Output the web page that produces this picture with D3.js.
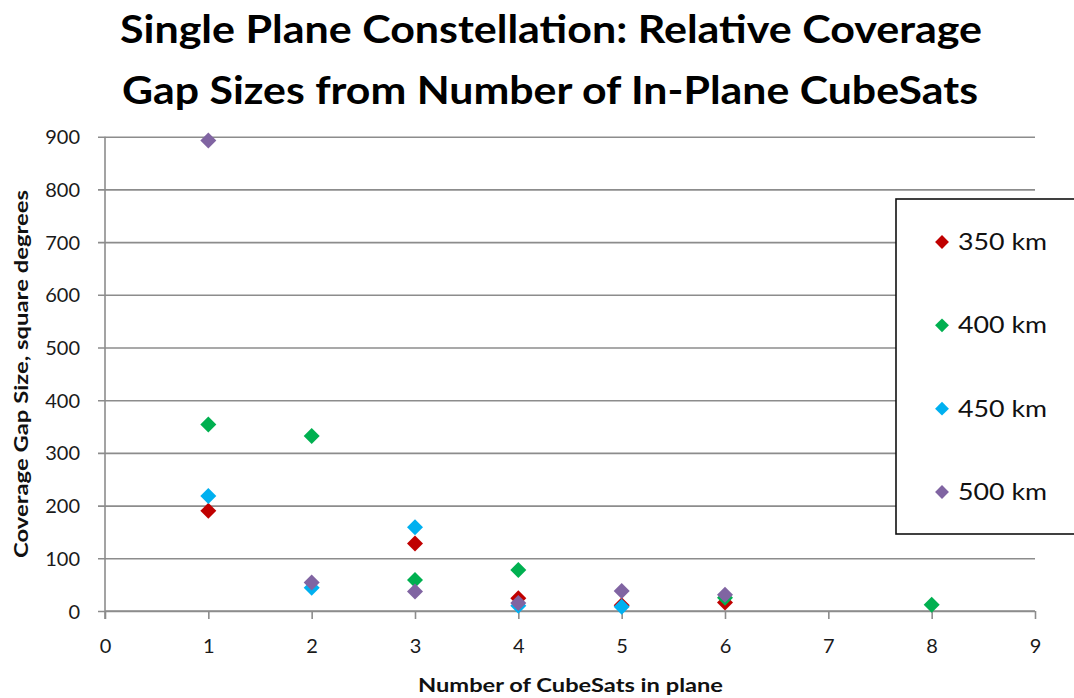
<!DOCTYPE html>
<html><head><meta charset="utf-8">
<script src="https://cdn.jsdelivr.net/npm/d3@7"></script>
<style>
html,body{margin:0;padding:0;background:#fff;}
svg{display:block;font-family:Lato,"Open Sans",sans-serif;}
</style></head>
<body><svg id="c" width="1074" height="698"></svg>
<script>
const counts = [1, 2, 3, 4, 5, 6, 7, 8];
const s350 = [190, null, 128, 24, 11, 16, null, null];
const s400 = [354, 332, 59, 78, null, 25, null, 12];
const s450 = [218, 44, 159, 10, 8, null, null, null];
const s500 = [893, 54, 37, 15, 38, 31, null, null];
const seriesNames = ["350 km", "400 km", "450 km", "500 km"];
const seriesColors = ["#c00000", "#00b050", "#00b0f0", "#8064a2"];
const xTicks = [0, 1, 2, 3, 4, 5, 6, 7, 8, 9];
const yTicks = [0, 100, 200, 300, 400, 500, 600, 700, 800, 900];
const titleLines = ["Single Plane Constellation: Relative Coverage", "Gap Sizes from Number of In-Plane CubeSats"];
const xLabel = "Number of CubeSats in plane";
const yLabel = "Coverage Gap Size, square degrees";

const svg = d3.select("#c");
const x = d3.scaleLinear().domain([0, 9]).range([105, 1035]);
const y = d3.scaleLinear().domain([0, 900]).range([611, 136.7]);
const grid = "#8c8c8c";

// title
svg.append("text").attr("x", 551).attr("y", 43).attr("text-anchor", "middle")
  .attr("font-size", 39).attr("font-weight", 700).attr("fill", "#000")
  .attr("textLength", 862).attr("lengthAdjust", "spacingAndGlyphs").text(titleLines[0]);
svg.append("text").attr("x", 550).attr("y", 104).attr("text-anchor", "middle")
  .attr("font-size", 39).attr("font-weight", 700).attr("fill", "#000")
  .attr("textLength", 856).attr("lengthAdjust", "spacingAndGlyphs").text(titleLines[1]);

// y gridlines / axis
const yAxis = d3.axisLeft(y).tickValues(yTicks).tickSize(-(1035 - 105)).tickPadding(0).tickFormat(d3.format("d"));
const gy = svg.append("g").attr("transform", "translate(105,0)").call(yAxis);
gy.select(".domain").remove();
gy.selectAll(".tick line").attr("stroke", grid).attr("stroke-width", 1.6).attr("x1", -7);
gy.selectAll(".tick text").attr("x", -25).attr("font-size", 20).attr("fill", "#1a1a1a")
  .attr("font-family", "Lato, sans-serif").attr("dy", "0.35em");

// x axis
const xAxis = d3.axisBottom(x).tickValues(xTicks).tickSize(8).tickPadding(0).tickFormat(d3.format("d"));
const gx = svg.append("g").attr("transform", "translate(0,611)").call(xAxis);
gx.select(".domain").attr("stroke", grid).attr("stroke-width", 1.6).attr("d", `M105,0H1035`);
gx.selectAll(".tick line").attr("stroke", grid).attr("stroke-width", 1.6);
gx.selectAll(".tick text").attr("y", 42).attr("dy", 0).attr("font-size", 20).attr("fill", "#1a1a1a")
  .attr("font-family", "Lato, sans-serif");

// vertical axis line
svg.append("line").attr("x1", x(0)).attr("x2", x(0)).attr("y1", y(900)).attr("y2", y(0) + 8)
  .attr("stroke", grid).attr("stroke-width", 1.6);

// axis labels
svg.append("text").attr("x", 570.5).attr("y", 692).attr("text-anchor", "middle")
  .attr("font-size", 18).attr("font-weight", 700).attr("fill", "#111")
  .attr("textLength", 305).attr("lengthAdjust", "spacingAndGlyphs").text(xLabel);
svg.append("text").attr("transform", "translate(28,374) rotate(-90)").attr("text-anchor", "middle")
  .attr("font-size", 18).attr("font-weight", 700).attr("fill", "#111")
  .attr("textLength", 368).attr("lengthAdjust", "spacingAndGlyphs").text(yLabel);

// markers
const diamond = d3.symbol().type(d3.symbolSquare).size(128);
const allSeries = [s350, s400, s450, s500];
allSeries.forEach((vals, i) => {
  const pts = counts.map((c, j) => ({c, v: vals[j]})).filter(d => d.v !== null);
  svg.append("g").selectAll("path").data(pts).join("path")
    .attr("d", diamond)
    .attr("transform", d => `translate(${x(d.c)},${y(d.v)}) rotate(45)`)
    .attr("fill", seriesColors[i]);
});

// legend
svg.append("rect").attr("x", 896).attr("y", 199).attr("width", 200).attr("height", 335)
  .attr("fill", "#fff").attr("stroke", "#111").attr("stroke-width", 1.6);
const legY = d3.scalePoint().domain(seriesNames).range([242, 492]);
const legDiamond = d3.symbol().type(d3.symbolSquare).size(96);
const lg = svg.append("g").selectAll("g").data(seriesNames).join("g")
  .attr("transform", d => `translate(0,${legY(d)})`);
lg.append("path").attr("d", legDiamond).attr("transform", "translate(942,0) rotate(45)")
  .attr("fill", (d, i) => seriesColors[i]);
lg.append("text").attr("x", 958).attr("y", 8).attr("font-size", 23).attr("fill", "#111")
  .attr("textLength", 89).attr("lengthAdjust", "spacingAndGlyphs").text(d => d);
</script></body></html>
